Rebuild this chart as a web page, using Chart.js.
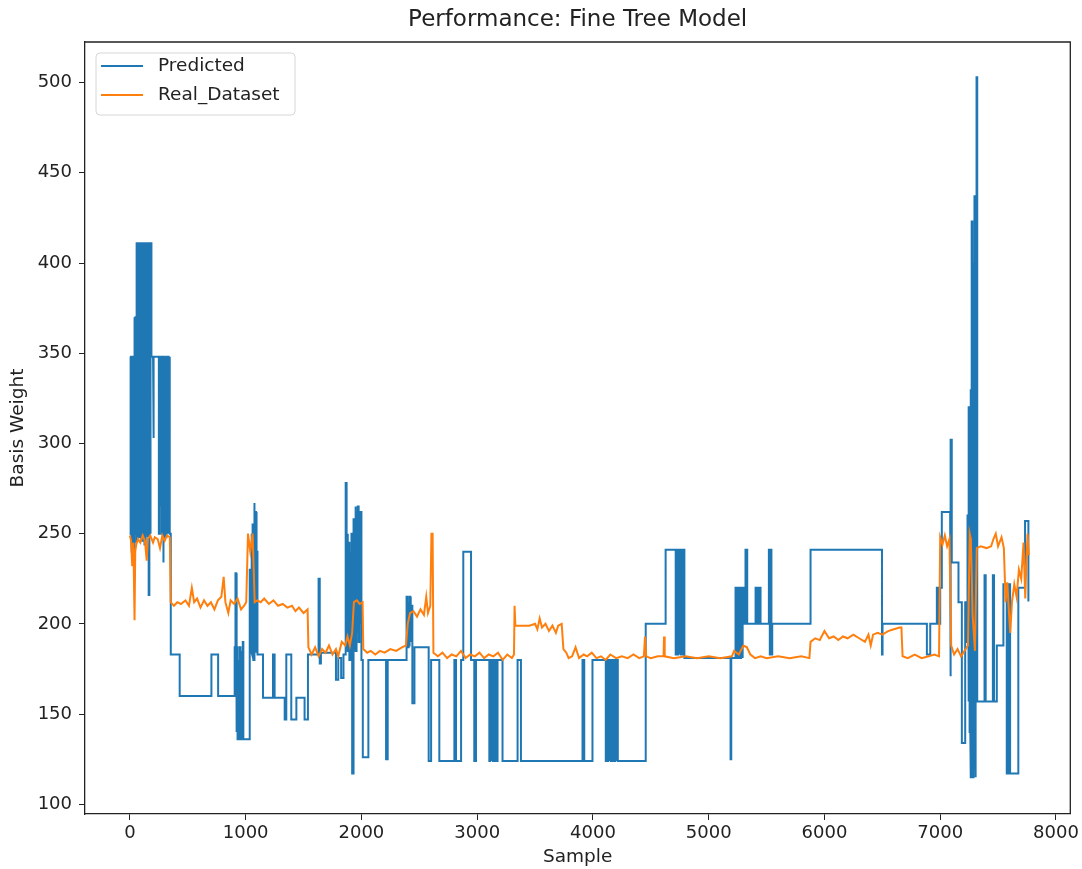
<!DOCTYPE html>
<html>
<head>
<meta charset="utf-8">
<script src="https://cdn.jsdelivr.net/npm/chart.js@4"></script>
<style>
  html, body { margin: 0; padding: 0; background: #fff; }
  canvas { display: block; }
</style>
</head>
<body>
<canvas id="chart" width="1082" height="869"></canvas>
<script>
// values: [sample, basis weight]
// predicted is a step series (value holds from sample until next entry)
const predicted = [
  [0,348],[6,250],[12,348],[18,240],[24,348],[30,235],[36,370],[42,250],[48,370],[54,245],
  [60,411],[66,250],[72,411],[78,248],[84,411],[90,252],[96,411],[102,246],[108,411],[114,250],
  [120,411],[126,244],[132,411],[138,250],[144,411],[150,248],[156,411],[162,216],[168,411],[174,250],
  [180,411],[186,348],[200,303],[207,348],[250,250],[256,348],[262,265],[268,348],[274,250],[280,348],
  [286,234],[292,348],[298,250],[304,348],[310,248],[316,348],[322,250],[328,348],[334,252],[340,348],
  [346,250],[353,183],[430,160],[704,183],[762,160],[905,187],[912,228],[918,140],[924,187],[930,136],
  [936,180],[942,136],[949,187],[955,136],[962,185],[968,136],[975,190],[980,136],[1035,230],[1042,185],
  [1048,250],[1054,184],[1060,255],[1066,180],[1072,267],[1078,185],[1084,262],[1090,184],[1096,240],[1102,183],
  [1150,159],[1236,183],[1250,159],[1337,147],[1351,183],[1394,147],[1438,159],[1509,147],[1538,183],[1630,225],
  [1640,178],[1650,184],[1780,169],[1800,181],[1825,170],[1845,183],[1860,250],[1866,278],[1872,200],[1878,250],
  [1884,185],[1890,245],[1896,180],[1902,240],[1908,190],[1914,250],[1920,117],[1928,230],[1934,258],[1940,190],
  [1946,265],[1952,185],[1958,262],[1964,195],[1970,265],[1976,190],[1982,258],[1988,200],[1994,262],[2000,180],
  [2012,126],[2060,180],[2213,125],[2227,180],[2386,187],[2392,215],[2398,187],[2404,212],[2410,188],[2416,215],
  [2422,190],[2428,210],[2440,156],[2458,187],[2581,124],[2602,180],[2673,124],[2803,180],[2817,124],[2861,180],
  [2880,240],[2947,180],[2975,124],[2990,180],[3105,124],[3112,180],[3120,124],[3128,180],[3136,124],[3144,180],
  [3152,124],[3160,180],[3168,124],[3176,180],[3219,124],[3349,180],[3378,124],[3910,180],[3925,124],[3996,180],
  [4111,124],[4118,180],[4125,124],[4132,180],[4140,124],[4147,180],[4155,124],[4162,180],[4170,124],[4177,180],
  [4185,124],[4192,180],[4200,124],[4207,180],[4215,124],[4456,200],[4628,241],[4715,183],[4722,241],[4730,183],
  [4737,241],[4745,183],[4752,241],[4760,183],[4767,241],[4775,183],[4782,241],[4790,181],[5189,125],[5195,181],
  [5232,220],[5240,181],[5248,220],[5256,181],[5264,220],[5272,181],[5280,220],[5288,181],[5296,220],[5304,200],
  [5318,241],[5333,200],[5405,220],[5413,200],[5420,220],[5428,200],[5436,220],[5448,200],[5520,241],[5528,183],
  [5535,241],[5542,183],[5549,200],[5880,241],[6497,183],[6502,200],[6885,183],[6914,200],[6971,220],[6978,200],
  [6985,220],[6993,200],[7000,220],[7014,262],[7086,171],[7092,302],[7100,234],[7158,212],[7187,134],[7216,212],
  [7230,190],[7236,260],[7242,157],[7248,320],[7254,140],[7260,330],[7266,115],[7272,423],[7278,115],[7284,400],
  [7290,120],[7296,437],[7302,115],[7308,420],[7314,503],[7320,157],[7383,227],[7393,157],[7455,227],[7465,157],
  [7489,188],[7546,222],[7575,117],[7590,222],[7604,117],[7675,220],[7733,257],[7762,213],[7770,213]
];

const realDataset = [
  [0,249],[10,246],[20,232],[30,245],[40,202],[46,240],[55,244],[70,247],[90,245],[110,249],
  [130,246],[145,235],[155,247],[175,249],[200,245],[215,248],[240,247],[260,242],[280,249],[300,246],
  [320,249],[345,248],[352,212],[380,210],[410,212],[440,211],[480,213],[510,210],[535,220],[555,212],
  [580,214],[610,209],[640,213],[670,210],[700,212],[730,208],[760,213],[790,215],[810,226],[825,212],
  [850,206],[870,213],[900,211],[930,214],[960,208],[985,210],[1005,212],[1020,250],[1040,240],[1060,250],
  [1078,212],[1100,213],[1130,212],[1160,214],[1200,211],[1240,213],[1280,210],[1320,211],[1360,209],[1400,210],
  [1430,207],[1460,209],[1500,206],[1535,208],[1542,187],[1570,183],[1600,187],[1630,182],[1660,186],[1690,184],
  [1720,188],[1750,183],[1780,186],[1800,182],[1830,190],[1860,188],[1880,193],[1900,188],[1920,195],[1935,212],
  [1960,213],[1985,211],[2010,212],[2016,186],[2050,184],[2080,185],[2120,183],[2160,185],[2200,184],[2250,186],
  [2300,185],[2350,187],[2385,188],[2400,200],[2420,206],[2450,207],[2480,204],[2510,208],[2540,205],[2560,215],
  [2575,206],[2595,210],[2605,250],[2615,250],[2622,184],[2660,182],[2700,184],[2740,181],[2780,183],[2820,182],
  [2860,185],[2900,181],[2940,183],[2980,182],[3020,184],[3060,181],[3100,183],[3140,182],[3180,184],[3220,180],
  [3260,183],[3300,181],[3318,183],[3323,210],[3330,199],[3400,199],[3450,199],[3500,200],[3520,197],[3540,203],
  [3560,198],[3590,200],[3620,196],[3650,199],[3680,195],[3700,199],[3730,200],[3745,186],[3770,184],[3790,181],
  [3820,182],[3850,187],[3880,181],[3920,183],[3950,182],[3990,184],[4030,181],[4070,182],[4110,180],[4150,183],
  [4200,181],[4250,182],[4300,181],[4350,183],[4400,181],[4440,182],[4450,193],[4460,182],[4500,181],[4560,182],
  [4610,182],[4614,193],[4620,182],[4700,181],[4800,182],[4900,181],[5000,182],[5100,181],[5200,182],[5220,185],
  [5260,183],[5300,188],[5330,187],[5360,183],[5400,181],[5450,182],[5500,181],[5600,182],[5700,181],[5800,182],
  [5870,181],[5880,190],[5920,192],[5960,191],[6000,196],[6040,192],[6080,193],[6120,191],[6160,193],[6200,192],
  [6250,194],[6300,192],[6350,190],[6380,194],[6400,188],[6420,194],[6460,195],[6500,194],[6550,196],[6600,197],
  [6650,198],[6665,198],[6675,182],[6720,181],[6780,183],[6840,181],[6900,182],[6950,183],[6990,182],[7000,248],
  [7020,244],[7040,249],[7060,243],[7080,247],[7095,188],[7120,183],[7150,186],[7180,182],[7210,185],[7240,188],
  [7255,250],[7265,247],[7280,205],[7300,185],[7316,242],[7350,243],[7400,242],[7440,243],[7460,247],[7480,250],
  [7500,243],[7530,248],[7550,242],[7565,212],[7580,223],[7595,205],[7605,195],[7620,212],[7640,222],[7660,215],
  [7680,230],[7700,225],[7720,245],[7735,214],[7745,235],[7755,250],[7765,238]
];

const xTicks = [0, 1000, 2000, 3000, 4000, 5000, 6000, 7000, 8000];
const yTicks = [100, 150, 200, 250, 300, 350, 400, 450, 500];

const BLUE = '#1f77b4';
const ORANGE = '#ff7f0e';
const FONT = "'DejaVu Sans', sans-serif";
const TEXT = '#222';

// chart.js draws value of point i from x[i-1] -> hold each value until the next sample
function toSteps(rows) {
  const pts = [];
  rows.forEach(([x, y], i) => {
    pts.push({ x, y });
    if (i + 1 < rows.length) pts.push({ x: rows[i + 1][0], y });
  });
  return pts;
}
const toPoints = rows => rows.map(([x, y]) => ({ x, y }));

// title, axis labels, frame and legend drawn on the canvas
const decor = {
  id: 'decor',
  afterDatasetsDraw(chart) {
    const { ctx, chartArea: a } = chart;
    ctx.save();
    // top and right spines (left/bottom come from the scale borders)
    ctx.strokeStyle = '#222';
    ctx.lineWidth = 1.3;
    ctx.beginPath();
    ctx.moveTo(a.left, a.top);
    ctx.lineTo(a.right, a.top);
    ctx.lineTo(a.right, a.bottom);
    ctx.stroke();

    // legend box
    const lx = 96, ly = 53, lw = 199, lh = 62, r = 4;
    ctx.beginPath();
    ctx.moveTo(lx + r, ly);
    ctx.arcTo(lx + lw, ly, lx + lw, ly + lh, r);
    ctx.arcTo(lx + lw, ly + lh, lx, ly + lh, r);
    ctx.arcTo(lx, ly + lh, lx, ly, r);
    ctx.arcTo(lx, ly, lx + lw, ly, r);
    ctx.closePath();
    ctx.fillStyle = 'rgba(255,255,255,0.8)';
    ctx.fill();
    ctx.strokeStyle = '#d6d6d6';
    ctx.lineWidth = 1;
    ctx.stroke();

    const items = [['Predicted', BLUE, 66], ['Real_Dataset', ORANGE, 95]];
    ctx.font = '18.5px ' + FONT;
    ctx.textBaseline = 'middle';
    ctx.textAlign = 'left';
    items.forEach(([label, color, y]) => {
      ctx.strokeStyle = color;
      ctx.lineWidth = 2.2;
      ctx.beginPath();
      ctx.moveTo(101, y);
      ctx.lineTo(143, y);
      ctx.stroke();
      ctx.fillStyle = TEXT;
      ctx.fillText(label, 158, y);
    });
    ctx.restore();
  },
  afterDraw(chart) {
    const { ctx, chartArea: a } = chart;
    const cx = (a.left + a.right) / 2;
    ctx.save();
    ctx.fillStyle = TEXT;
    ctx.textAlign = 'center';
    ctx.textBaseline = 'middle';
    ctx.font = '23px ' + FONT;
    ctx.fillText('Performance: Fine Tree Model', cx, 20);
    ctx.font = '18.5px ' + FONT;
    ctx.fillText('Sample', cx, 857);
    ctx.translate(18, (a.top + a.bottom) / 2);
    ctx.rotate(-Math.PI / 2);
    ctx.fillText('Basis Weight', 0, 0);
    ctx.restore();
  }
};

new Chart(document.getElementById('chart'), {
  type: 'line',
  data: {
    datasets: [
      {
        label: 'Real_Dataset',
        data: toPoints(realDataset),
        borderColor: ORANGE,
        borderWidth: 2,
        pointRadius: 0,
        tension: 0,
        order: 0
      },
      {
        label: 'Predicted',
        data: toSteps(predicted),
        borderColor: BLUE,
        borderWidth: 2,
        pointRadius: 0,
        tension: 0,
        order: 1
      }
    ]
  },
  options: {
    responsive: false,
    animation: false,
    devicePixelRatio: 1,
    layout: { padding: { top: 42, right: 10, left: 0, bottom: 0 } },
    plugins: {
      legend: { display: false },
      title: { display: false },
      tooltip: { enabled: false }
    },
    scales: {
      x: {
        type: 'linear',
        min: -388,
        max: 8124,
        afterBuildTicks: axis => { axis.ticks = xTicks.map(v => ({ value: v })); },
        afterFit: axis => { axis.height = 55; },
        grid: { drawOnChartArea: false, drawTicks: true, tickLength: 6, tickColor: '#222' },
        border: { display: true, color: '#222', width: 1.3 },
        ticks: {
          font: { family: FONT, size: 18 }, color: TEXT, padding: 3, maxRotation: 0, autoSkip: false,
          callback: v => String(v)
        }
      },
      y: {
        type: 'linear',
        min: 94.6,
        max: 522.5,
        afterBuildTicks: axis => { axis.ticks = yTicks.map(v => ({ value: v })); },
        afterFit: axis => { axis.width = 85; },
        grid: { drawOnChartArea: false, drawTicks: true, tickLength: 6, tickColor: '#222' },
        border: { display: true, color: '#222', width: 1.3 },
        ticks: {
          font: { family: FONT, size: 18 }, color: TEXT, padding: 7, autoSkip: false,
          callback: v => String(v)
        }
      }
    }
  },
  plugins: [decor]
});
</script>
</body>
</html>
